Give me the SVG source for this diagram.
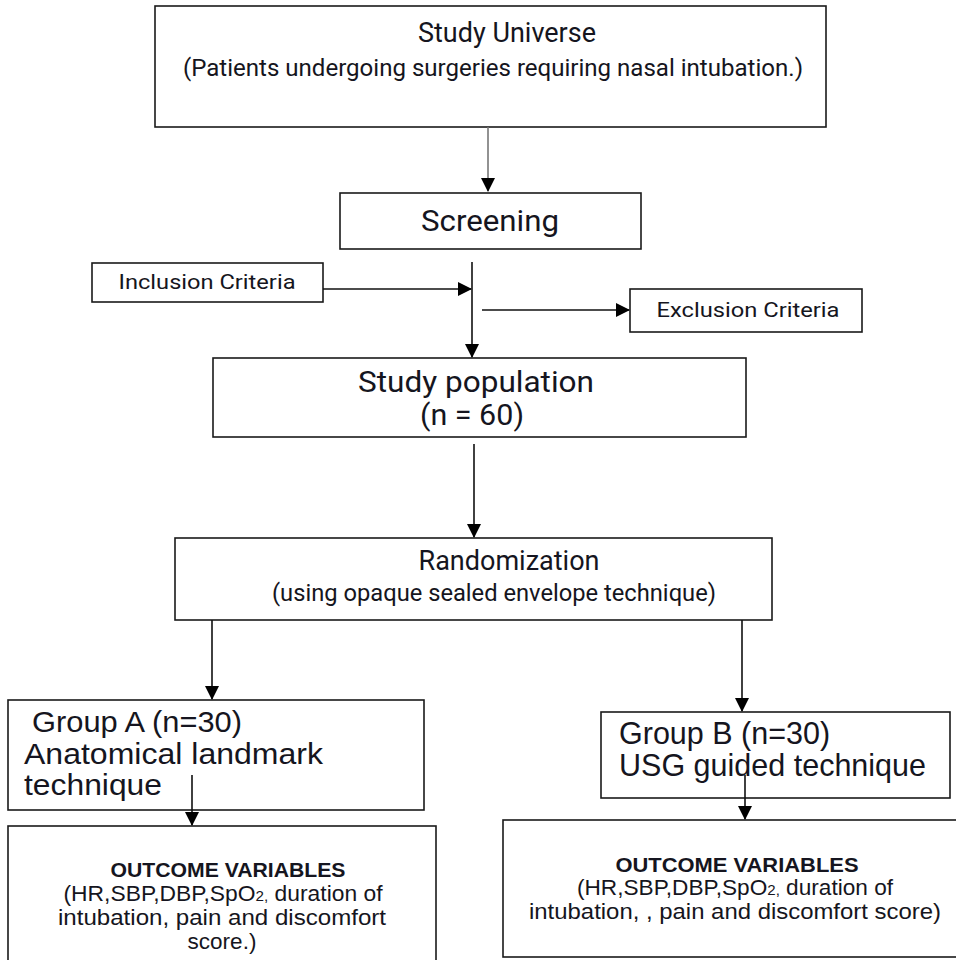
<svg xmlns="http://www.w3.org/2000/svg" width="956" height="960" viewBox="0 0 956 960">
<defs>
<style>
.box{fill:#fff;stroke:#1a1a1a;stroke-width:1.6}
.r{font-family:Roboto,"Liberation Sans",sans-serif;fill:#151520}
.a{font-family:"Liberation Sans",Arial,sans-serif;fill:#151520}
.c{stroke:#111;stroke-width:1.6;fill:none}
</style>
<marker id="ah" markerUnits="userSpaceOnUse" markerWidth="14" markerHeight="14" viewBox="0 0 14 14" refX="13" refY="7" orient="auto">
<path d="M0,0 L14,7 L0,14 Z" fill="#000"/>
</marker>
</defs>
<rect width="956" height="960" fill="#fff"/>

<g id="study-universe">
<rect class="box" x="155" y="6" width="671" height="121"/>
<text class="r" x="507" y="42" font-size="28" text-anchor="middle" textLength="178" lengthAdjust="spacingAndGlyphs">Study Universe</text>
<text class="r" x="493" y="76" font-size="23" text-anchor="middle" textLength="620" lengthAdjust="spacingAndGlyphs">(Patients undergoing surgeries requiring nasal intubation.)</text>
</g>

<g id="screening">
<rect class="box" x="340" y="193" width="301" height="56"/>
<text class="r" x="490" y="231" font-size="30" text-anchor="middle" textLength="138" lengthAdjust="spacingAndGlyphs">Screening</text>
</g>

<g id="inclusion">
<rect class="box" x="92" y="263" width="231" height="39"/>
<text class="r" x="207" y="289" font-size="21" text-anchor="middle" textLength="177" lengthAdjust="spacingAndGlyphs">Inclusion Criteria</text>
</g>

<g id="exclusion">
<rect class="box" x="630" y="289" width="232" height="43"/>
<text class="r" x="748" y="317" font-size="21" text-anchor="middle" textLength="183" lengthAdjust="spacingAndGlyphs">Exclusion Criteria</text>
</g>

<g id="study-population">
<rect class="box" x="213" y="358" width="533" height="79"/>
<text class="r" x="476" y="392" font-size="29" text-anchor="middle" textLength="236" lengthAdjust="spacingAndGlyphs">Study population</text>
<text class="r" x="472" y="425" font-size="29" text-anchor="middle" textLength="104" lengthAdjust="spacingAndGlyphs">(n = 60)</text>
</g>

<g id="randomization">
<rect class="box" x="175" y="538" width="597" height="82"/>
<text class="r" x="509" y="570" font-size="28" text-anchor="middle" textLength="181" lengthAdjust="spacingAndGlyphs">Randomization</text>
<text class="r" x="494" y="601" font-size="23" text-anchor="middle" textLength="444" lengthAdjust="spacingAndGlyphs">(using opaque sealed envelope technique)</text>
</g>

<g id="group-a">
<rect class="box" x="8" y="700" width="416" height="110"/>
<text class="a" x="32" y="732" font-size="29.5" textLength="210" lengthAdjust="spacingAndGlyphs">Group A (n=30)</text>
<text class="a" x="24" y="763.5" font-size="29.5" textLength="299" lengthAdjust="spacingAndGlyphs">Anatomical landmark</text>
<text class="a" x="24" y="795" font-size="29.5" textLength="138" lengthAdjust="spacingAndGlyphs">technique</text>
</g>

<g id="group-b">
<rect class="box" x="601" y="712" width="349" height="86"/>
<text class="a" x="619" y="744" font-size="30.5">Group B (n=30)</text>
<text class="a" x="619" y="776" font-size="30.5" textLength="307" lengthAdjust="spacingAndGlyphs">USG guided technique</text>
</g>

<g id="outcome-a">
<rect class="box" x="8" y="826" width="428" height="140"/>
<text class="a" x="228" y="877" font-size="20" font-weight="bold" text-anchor="middle" textLength="235" lengthAdjust="spacingAndGlyphs">OUTCOME VARIABLES</text>
<text class="a" x="223" y="901" font-size="22.5" text-anchor="middle" textLength="319" lengthAdjust="spacingAndGlyphs">(HR,SBP,DBP,SpO<tspan font-size="15">2,</tspan> duration of</text>
<text class="a" x="222" y="925" font-size="22.5" text-anchor="middle" textLength="328" lengthAdjust="spacingAndGlyphs">intubation, pain and discomfort</text>
<text class="a" x="222" y="949" font-size="22.5" text-anchor="middle">score.)</text>
</g>

<g id="outcome-b">
<rect class="box" x="503" y="820" width="460" height="137"/>
<text class="a" x="737" y="872" font-size="20" font-weight="bold" text-anchor="middle" textLength="243" lengthAdjust="spacingAndGlyphs">OUTCOME VARIABLES</text>
<text class="a" x="735" y="895" font-size="22.5" text-anchor="middle" textLength="316" lengthAdjust="spacingAndGlyphs">(HR,SBP,DBP,SpO<tspan font-size="15">2,</tspan> duration of</text>
<text class="a" x="735" y="919" font-size="22.5" text-anchor="middle" textLength="412" lengthAdjust="spacingAndGlyphs">intubation, , pain and discomfort score)</text>
</g>

<g id="connectors">
<line x1="488" y1="127" x2="488" y2="191" stroke="#777" stroke-width="1.6" marker-end="url(#ah)"/>
<line class="c" x1="472" y1="262" x2="472" y2="357" marker-end="url(#ah)"/>
<line class="c" x1="323" y1="289" x2="471" y2="289" marker-end="url(#ah)"/>
<line class="c" x1="482" y1="310" x2="629" y2="310" marker-end="url(#ah)"/>
<line class="c" x1="474" y1="444" x2="474" y2="537" marker-end="url(#ah)"/>
<line class="c" x1="212" y1="620" x2="212" y2="699" marker-end="url(#ah)"/>
<line class="c" x1="742" y1="620" x2="742" y2="711" marker-end="url(#ah)"/>
<line class="c" x1="192" y1="775" x2="192" y2="825" marker-end="url(#ah)"/>
<line class="c" x1="745" y1="775" x2="745" y2="819" marker-end="url(#ah)"/>
</g>
</svg>
